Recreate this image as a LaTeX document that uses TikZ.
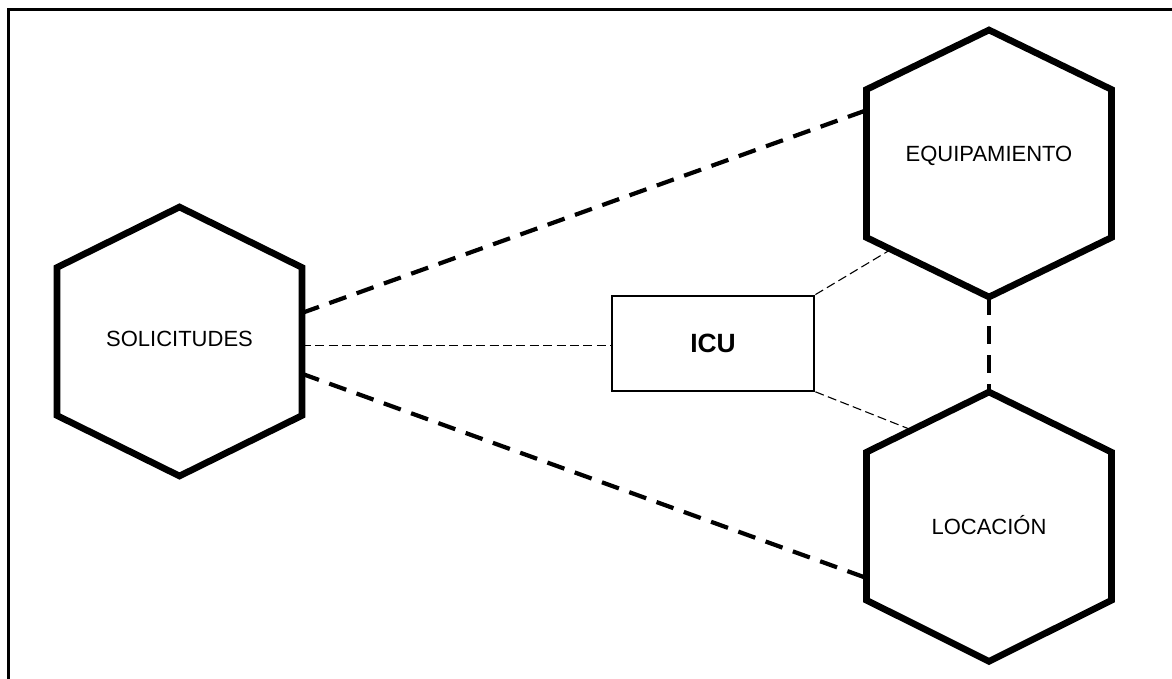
\documentclass[tikz,border=0pt]{standalone}
\usepackage{fontspec}
\setmainfont{Liberation Sans}
\usetikzlibrary{calc}
\tikzset{
  hexline/.style={line width=3.3pt, line join=miter},
  bigdash/.style={line width=2.1pt, dash pattern=on 9pt off 5.5pt},
  thindash/.style={line width=0.55pt, dash pattern=on 4.5pt off 2.2pt},
  hexlabel/.style={font=\fontsize{11}{13.2}\selectfont, inner sep=0pt},
  icubox/.style={draw, line width=1.1pt, minimum width=101.3pt, minimum height=47.5pt, inner sep=0pt, font=\fontsize{13.2}{15.8}\selectfont\bfseries},
  frameline/.style={line width=1.5pt}
}
\begin{document}
\begin{tikzpicture}[x=0.5pt,y=-0.5pt]
\clip (0,0) rectangle (1172,679);
\useasboundingbox (0,0) rectangle (1172,679);
\fill[white] (0,0) rectangle (1172,679);
\draw[frameline] (8,700) -- (8,10) -- (1190,10);

% SOLICITUDES hexagon
\coordinate (s-t) at (179.5,207);
\coordinate (s-ur) at (302,267.5);
\coordinate (s-lr) at (302,415.5);
\coordinate (s-b) at (179.5,476);
\coordinate (s-ll) at (57,415.5);
\coordinate (s-ul) at (57,267.5);
\draw[hexline] (s-t) -- (s-ur) -- (s-lr) -- (s-b) -- (s-ll) -- (s-ul) -- cycle;
\node[hexlabel] (sol) at (179.5,339) {SOLICITUDES};

% EQUIPAMIENTO hexagon
\coordinate (e-t) at (989,30);
\coordinate (e-ur) at (1111.5,89.5);
\coordinate (e-lr) at (1111.5,237.5);
\coordinate (e-b) at (989,297);
\coordinate (e-ll) at (866.5,237.5);
\coordinate (e-ul) at (866.5,89.5);
\draw[hexline] (e-t) -- (e-ur) -- (e-lr) -- (e-b) -- (e-ll) -- (e-ul) -- cycle;
\node[hexlabel] (equ) at (989,156) {EQUIPAMIENTO};

% LOCACION hexagon
\coordinate (l-t) at (989,392);
\coordinate (l-ur) at (1111.5,452.2);
\coordinate (l-lr) at (1111.5,600.2);
\coordinate (l-b) at (989,661.4);
\coordinate (l-ll) at (866.5,600.2);
\coordinate (l-ul) at (866.5,452.2);
\draw[hexline] (l-t) -- (l-ur) -- (l-lr) -- (l-b) -- (l-ll) -- (l-ul) -- cycle;
\node[hexlabel] (loc) at (989,525) {LOCACIÓN};

% ICU box
\node[icubox] (icu) at (713,343.2) {ICU};

% connection points
\coordinate (s-a) at ($(s-ur)!0.307!(s-lr)$);
\coordinate (s-m) at ($(s-ur)!0.528!(s-lr)$);
\coordinate (s-c) at ($(s-ur)!0.718!(s-lr)$);
\coordinate (e-a) at ($(e-ul)!0.14!(e-ll)$);
\coordinate (e-m) at ($(e-ll)!0.2!(e-b)$);
\coordinate (l-a) at ($(l-ul)!0.85!(l-ll)$);
\coordinate (l-m) at ($(l-ul)!0.369!(l-t)$);

% connectors
\draw[bigdash] (s-a) -- (e-a);
\draw[bigdash] (s-c) -- (l-a);
\draw[bigdash] (e-b) -- (l-t);
\draw[thindash] (s-m) -- (s-m -| icu.west);
\draw[thindash] (icu.north east) -- (e-m);
\draw[thindash] (icu.south east) -- (l-m);
\end{tikzpicture}
\end{document}
